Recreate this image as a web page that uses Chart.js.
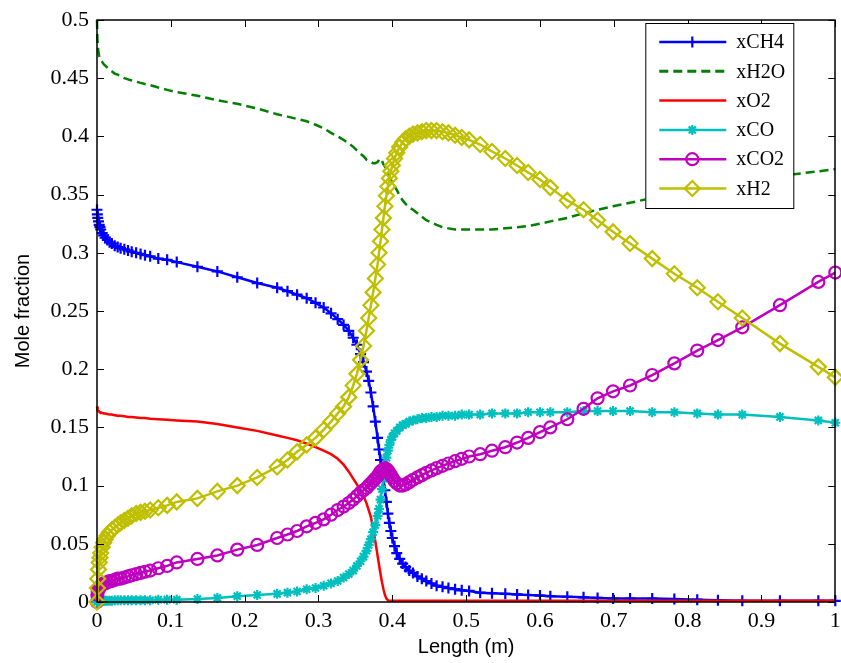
<!DOCTYPE html>
<html>
<head>
<meta charset="utf-8">
<script src="https://cdn.jsdelivr.net/npm/chart.js@4/dist/chart.umd.min.js"></script>
<style>
  html, body { margin: 0; padding: 0; background: #fff; overflow: hidden; }
  #wrap { width: 845px; height: 663px; position: relative; }
</style>
</head>
<body>
<div id="wrap"><canvas id="chart"></canvas></div>
<script>
// axial position (m), shared simulation grid for all species
const lengthGrid = [0, 0.0005, 0.001, 0.002, 0.003, 0.004, 0.005, 0.007, 0.009, 0.011,
  0.014, 0.017, 0.02, 0.024, 0.028, 0.032, 0.037, 0.042, 0.047, 0.053,
  0.059, 0.065, 0.072, 0.083, 0.095, 0.108, 0.136, 0.163, 0.190, 0.217,
  0.244, 0.258, 0.271, 0.284, 0.296, 0.307, 0.317, 0.326, 0.334, 0.341,
  0.347, 0.352, 0.357, 0.361, 0.365, 0.368, 0.371, 0.374, 0.377, 0.380,
  0.382, 0.384, 0.386, 0.388, 0.390, 0.392, 0.394, 0.396, 0.398, 0.400,
  0.403, 0.406, 0.410, 0.414, 0.418, 0.423, 0.428, 0.434, 0.440, 0.446,
  0.453, 0.460, 0.468, 0.476, 0.485, 0.494, 0.504, 0.519, 0.535, 0.553,
  0.569, 0.584, 0.600, 0.614, 0.637, 0.659, 0.678, 0.699, 0.722, 0.752,
  0.782, 0.813, 0.841, 0.874, 0.925, 0.977, 1.0];

const xCH4 = [0.337, 0.333, 0.330, 0.327, 0.324, 0.322, 0.320, 0.317, 0.315, 0.313,
  0.311, 0.309, 0.308, 0.306, 0.305, 0.304, 0.303, 0.302, 0.301, 0.300,
  0.299, 0.298, 0.297, 0.295, 0.294, 0.292, 0.288, 0.284, 0.279, 0.274,
  0.270, 0.267, 0.264, 0.261, 0.257, 0.253, 0.248, 0.243, 0.238, 0.233,
  0.227, 0.221, 0.213, 0.206, 0.198, 0.190, 0.180, 0.168, 0.155, 0.141,
  0.131, 0.122, 0.114, 0.105, 0.096, 0.086, 0.076, 0.068, 0.061, 0.055,
  0.048, 0.042, 0.037, 0.033, 0.030, 0.027, 0.025, 0.022, 0.020, 0.018,
  0.016, 0.014, 0.013, 0.012, 0.011, 0.010, 0.0095, 0.008, 0.0075, 0.007,
  0.0065, 0.006, 0.0055, 0.005, 0.0045, 0.004, 0.0035, 0.003, 0.003, 0.003,
  0.0025, 0.002, 0.0015, 0.001, 0.001, 0.001, 0.001];

const xH2O = [0.500, 0.485, 0.478, 0.472, 0.469, 0.467, 0.466, 0.464, 0.462, 0.461,
  0.459, 0.457, 0.456, 0.454, 0.453, 0.452, 0.450, 0.449, 0.448, 0.447,
  0.446, 0.445, 0.444, 0.442, 0.440, 0.438, 0.435, 0.431, 0.428, 0.424,
  0.419, 0.417, 0.415, 0.413, 0.410, 0.407, 0.403, 0.400, 0.397, 0.394,
  0.391, 0.388, 0.385, 0.383, 0.380, 0.379, 0.378, 0.377, 0.377, 0.378,
  0.380, 0.381, 0.379, 0.376, 0.374, 0.372, 0.369, 0.366, 0.363, 0.360,
  0.357, 0.354, 0.349, 0.345, 0.342, 0.339, 0.337, 0.334, 0.331, 0.328,
  0.326, 0.324, 0.322, 0.321, 0.320, 0.320, 0.320, 0.320, 0.320, 0.321,
  0.322, 0.323, 0.325, 0.327, 0.330, 0.334, 0.337, 0.340, 0.343, 0.347,
  0.351, 0.355, 0.358, 0.361, 0.366, 0.370, 0.372];

const xO2 = [0.168, 0.166, 0.165, 0.164, 0.1635, 0.163, 0.163, 0.1625, 0.162, 0.162,
  0.1615, 0.161, 0.161, 0.1605, 0.160, 0.160, 0.1595, 0.159, 0.159, 0.1585,
  0.158, 0.158, 0.1575, 0.157, 0.1565, 0.156, 0.155, 0.153, 0.150, 0.147,
  0.143, 0.141, 0.139, 0.136, 0.133, 0.130, 0.127, 0.123, 0.118, 0.112,
  0.106, 0.101, 0.096, 0.091, 0.085, 0.079, 0.073, 0.063, 0.052, 0.040,
  0.032, 0.024, 0.017, 0.011, 0.006, 0.003, 0.0015, 0.001, 0.001, 0.001,
  0.001, 0.001, 0.001, 0.001, 0.001, 0.001, 0.001, 0.001, 0.001, 0.001,
  0.001, 0.001, 0.001, 0.001, 0.001, 0.001, 0.001, 0.001, 0.001, 0.001,
  0.001, 0.001, 0.001, 0.001, 0.001, 0.001, 0.001, 0.001, 0.001, 0.001,
  0.001, 0.001, 0.001, 0.001, 0.001, 0.001, 0.001];

const xCO = [0, 0.0005, 0.001, 0.001, 0.001, 0.001, 0.001, 0.001, 0.001, 0.001,
  0.001, 0.001, 0.001, 0.0015, 0.0015, 0.0015, 0.0015, 0.0015, 0.0015, 0.0015,
  0.0015, 0.0015, 0.0015, 0.002, 0.002, 0.002, 0.0025, 0.0035, 0.005, 0.006,
  0.007, 0.008, 0.009, 0.011, 0.012, 0.014, 0.016, 0.018, 0.021, 0.024,
  0.027, 0.031, 0.035, 0.039, 0.044, 0.049, 0.054, 0.060, 0.066, 0.074,
  0.080, 0.088, 0.097, 0.106, 0.116, 0.124, 0.130, 0.135, 0.139, 0.142,
  0.145, 0.147, 0.150, 0.152, 0.153, 0.155, 0.156, 0.157, 0.158, 0.158,
  0.159, 0.159, 0.160, 0.160, 0.160, 0.161, 0.161, 0.161, 0.162, 0.162,
  0.162, 0.163, 0.163, 0.163, 0.163, 0.164, 0.164, 0.164, 0.164, 0.163,
  0.163, 0.162, 0.161, 0.161, 0.159, 0.156, 0.154];

const xCO2 = [0, 0.006, 0.009, 0.011, 0.012, 0.013, 0.014, 0.015, 0.016, 0.016,
  0.017, 0.018, 0.018, 0.019, 0.020, 0.020, 0.021, 0.022, 0.023, 0.024,
  0.025, 0.026, 0.027, 0.029, 0.031, 0.034, 0.037, 0.040, 0.045, 0.049,
  0.055, 0.058, 0.061, 0.065, 0.068, 0.071, 0.075, 0.079, 0.082, 0.085,
  0.088, 0.091, 0.094, 0.096, 0.098, 0.100, 0.102, 0.104, 0.106, 0.108,
  0.110, 0.112, 0.113, 0.114, 0.115, 0.114, 0.113, 0.111, 0.109, 0.107,
  0.104, 0.102, 0.100, 0.100, 0.101, 0.103, 0.105, 0.107, 0.109, 0.111,
  0.113, 0.115, 0.117, 0.119, 0.121, 0.123, 0.125, 0.127, 0.130, 0.133,
  0.137, 0.141, 0.146, 0.150, 0.157, 0.166, 0.175, 0.181, 0.186, 0.195,
  0.205, 0.216, 0.225, 0.236, 0.255, 0.275, 0.283];

const xH2 = [0, 0.012, 0.020, 0.028, 0.034, 0.038, 0.042, 0.047, 0.051, 0.054,
  0.057, 0.060, 0.062, 0.064, 0.066, 0.068, 0.070, 0.072, 0.074, 0.076,
  0.077, 0.078, 0.079, 0.081, 0.083, 0.086, 0.089, 0.095, 0.100, 0.107,
  0.116, 0.122, 0.129, 0.135, 0.141, 0.148, 0.155, 0.162, 0.168, 0.176,
  0.186, 0.196, 0.208, 0.220, 0.233, 0.244, 0.255, 0.266, 0.278, 0.290,
  0.300, 0.310, 0.320, 0.330, 0.340, 0.349, 0.357, 0.364, 0.370, 0.375,
  0.381, 0.386, 0.391, 0.395, 0.398, 0.400, 0.402, 0.403, 0.404, 0.405,
  0.405, 0.405, 0.404, 0.403, 0.401, 0.399, 0.397, 0.393, 0.387, 0.381,
  0.375, 0.369, 0.363, 0.356, 0.345, 0.337, 0.328, 0.318, 0.308, 0.295,
  0.282, 0.270, 0.258, 0.244, 0.222, 0.202, 0.193];

const xTicks = [0, 0.1, 0.2, 0.3, 0.4, 0.5, 0.6, 0.7, 0.8, 0.9, 1];
const yTicks = [0, 0.05, 0.1, 0.15, 0.2, 0.25, 0.3, 0.35, 0.4, 0.45, 0.5];

const series = [
  { label: 'xCH4', values: xCH4, color: '#0000ff', marker: 'cross', radius: 5.5, dash: [], order: 6 },
  { label: 'xH2O', values: xH2O, color: '#008000', marker: false, radius: 0, dash: [9, 5], order: 5 },
  { label: 'xO2', values: xO2, color: '#ff0000', marker: false, radius: 0, dash: [], order: 4 },
  { label: 'xCO', values: xCO, color: '#00bfbf', marker: 'star', radius: 5, dash: [], order: 3 },
  { label: 'xCO2', values: xCO2, color: '#bf00bf', marker: 'circle', radius: 6, dash: [], order: 2 },
  { label: 'xH2', values: xH2, color: '#bfbf00', marker: 'rectRot', radius: 7.5, dash: [], order: 1 }
];

const serif = 'Liberation Serif, Times New Roman, serif';
const sans = 'Liberation Sans, Arial, sans-serif';
const fmt = v => String(Number(v.toFixed(2)));

// box with inward ticks on all four sides, MATLAB style
const framePlugin = {
  id: 'frame',
  afterDatasetsDraw(chart) {
    const { ctx, chartArea: a, scales: { x, y } } = chart;
    ctx.save();
    ctx.strokeStyle = '#000';
    ctx.lineWidth = 1;
    ctx.beginPath();
    xTicks.forEach(v => {
      const px = Math.round(x.getPixelForValue(v)) + 0.5;
      ctx.moveTo(px, a.bottom); ctx.lineTo(px, a.bottom - 7);
      ctx.moveTo(px, a.top); ctx.lineTo(px, a.top + 7);
    });
    yTicks.forEach(v => {
      const py = Math.round(y.getPixelForValue(v)) + 0.5;
      ctx.moveTo(a.left, py); ctx.lineTo(a.left + 7, py);
      ctx.moveTo(a.right, py); ctx.lineTo(a.right - 7, py);
    });
    ctx.stroke();
    ctx.lineWidth = 1.5;
    ctx.strokeRect(Math.round(a.left), Math.round(a.top), Math.round(a.width), Math.round(a.height));
    ctx.restore();
  },
  afterDraw(chart) {
    // legend box in the upper right corner
    const { ctx, chartArea: a } = chart;
    const bx = a.right - 190, by = a.top + 3, bw = 148, bh = 185;
    ctx.save();
    ctx.fillStyle = '#fff';
    ctx.fillRect(bx, by, bw, bh);
    ctx.strokeStyle = '#000';
    ctx.lineWidth = 1;
    ctx.strokeRect(bx + 0.5, by + 0.5, bw, bh);
    series.forEach((s, i) => {
      const cy = by + 19 + i * 29.3;
      ctx.strokeStyle = s.color;
      ctx.lineWidth = s.dash.length ? 3 : 2.5;
      ctx.setLineDash(s.dash);
      ctx.beginPath();
      ctx.moveTo(bx + 14, cy);
      ctx.lineTo(bx + 81, cy);
      ctx.stroke();
      ctx.setLineDash([]);
      if (s.marker) {
        ctx.lineWidth = 2.2;
        ctx.fillStyle = 'rgba(0,0,0,0)';
        Chart.helpers.drawPoint(ctx, { pointStyle: s.marker, radius: s.radius, rotation: 0, borderWidth: 2.2 }, bx + 47, cy);
      }
      ctx.fillStyle = '#000';
      ctx.font = '20px ' + serif;
      ctx.textBaseline = 'middle';
      ctx.fillText(s.label, bx + 91, cy + 1);
    });
    ctx.restore();
  }
};

new Chart(document.getElementById('chart'), {
  type: 'scatter',
  data: {
    datasets: series.map(s => ({
      label: s.label,
      data: lengthGrid.map((x, i) => ({ x, y: s.values[i] })),
      showLine: true,
      borderColor: s.color,
      backgroundColor: s.color,
      borderWidth: 2.5,
      borderDash: s.dash,
      pointStyle: s.marker || 'circle',
      pointRadius: s.radius,
      pointBorderWidth: 2.2,
      pointBorderColor: s.color,
      pointBackgroundColor: 'rgba(0,0,0,0)',
      tension: 0,
      order: s.order,
      clip: false
    }))
  },
  options: {
    responsive: true,
    maintainAspectRatio: false,
    animation: false,
    events: [],
    layout: { padding: { top: 20, right: 1, left: 0, bottom: 0 } },
    plugins: { legend: { display: false }, tooltip: { enabled: false } },
    scales: {
      x: {
        type: 'linear', min: 0, max: 1,
        afterBuildTicks: s => { s.ticks = xTicks.map(v => ({ value: v })); },
        afterFit: s => { s.height = 61; s.paddingLeft = 0; s.paddingRight = 0; },
        grid: { display: false, drawTicks: false },
        border: { display: false },
        ticks: { font: { family: serif, size: 22 }, color: '#000', padding: 6, maxRotation: 0, autoSkip: false, callback: fmt },
        title: { display: true, text: 'Length (m)', font: { family: sans, size: 20 }, color: '#000', padding: { top: 0, bottom: 4 } }
      },
      y: {
        type: 'linear', min: 0, max: 0.5,
        afterBuildTicks: s => { s.ticks = yTicks.map(v => ({ value: v })); },
        afterFit: s => { s.width = 97; s.paddingTop = 0; s.paddingBottom = 0; },
        grid: { display: false, drawTicks: false },
        border: { display: false },
        ticks: { font: { family: serif, size: 22 }, color: '#000', padding: 8, autoSkip: false, callback: fmt },
        title: { display: true, text: 'Mole fraction', font: { family: sans, size: 20 }, color: '#000', padding: { top: 11, bottom: 0 } }
      }
    }
  },
  plugins: [framePlugin]
});
</script>
</body>
</html>
